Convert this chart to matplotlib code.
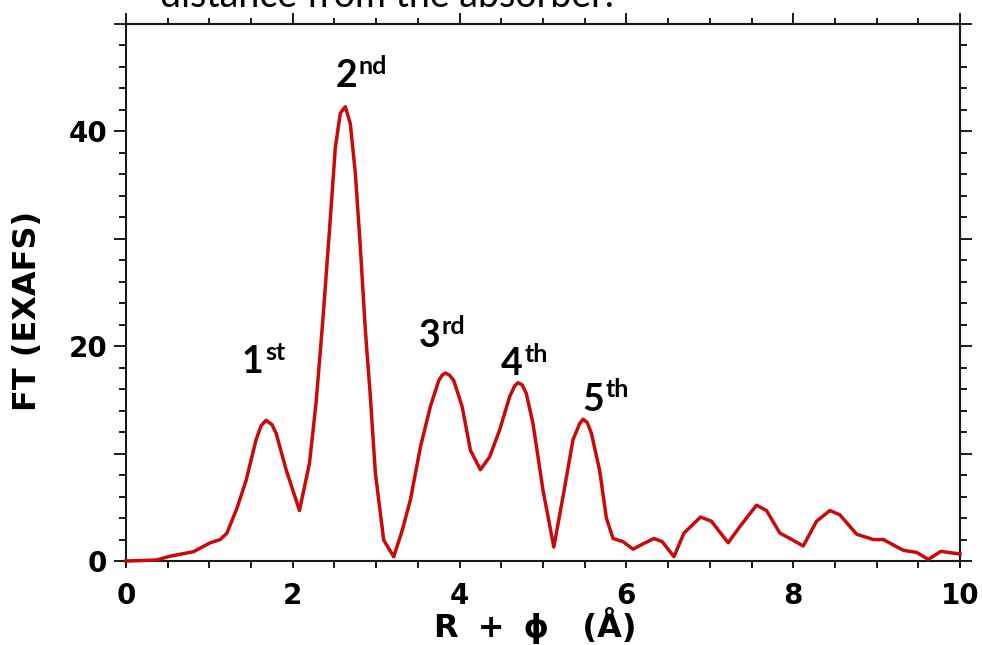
import matplotlib
matplotlib.use("Agg")
import matplotlib.pyplot as plt
from matplotlib.ticker import MultipleLocator, FuncFormatter

# Fourier-transformed EXAFS magnitude versus R + phi (Angstrom)
r_values = [0.00, 0.20, 0.37, 0.53, 0.81, 1.01, 1.13, 1.21, 1.33, 1.44,
            1.56, 1.62, 1.68, 1.75, 1.80, 1.92, 2.08, 2.20, 2.28, 2.36,
            2.44, 2.51, 2.57, 2.63, 2.69, 2.75, 2.81, 2.87, 2.93, 2.99,
            3.09, 3.21, 3.31, 3.41, 3.53, 3.65, 3.75, 3.79, 3.83, 3.88,
            3.93, 4.03, 4.13, 4.25, 4.36, 4.48, 4.60, 4.66, 4.70, 4.75,
            4.80, 4.88, 5.00, 5.13, 5.24, 5.36, 5.44, 5.48, 5.53, 5.58,
            5.68, 5.76, 5.84, 5.96, 6.08, 6.20, 6.33, 6.43, 6.57, 6.69,
            6.89, 7.02, 7.22, 7.36, 7.56, 7.68, 7.84, 7.96, 8.12, 8.28,
            8.44, 8.56, 8.76, 8.96, 9.08, 9.32, 9.48, 9.62, 9.77, 10.00]
ft_values = [0.0, 0.05, 0.1, 0.45, 0.87, 1.7, 2.0, 2.6, 4.9, 7.5,
             11.3, 12.6, 13.1, 12.7, 11.9, 8.5, 4.7, 9.1, 14.8, 22.4,
             30.8, 38.5, 41.7, 42.3, 40.7, 36.1, 29.2, 21.5, 15.3, 8.2,
             1.95, 0.4, 2.8, 5.7, 10.6, 14.4, 16.8, 17.3, 17.5, 17.3,
             16.8, 14.4, 10.3, 8.5, 9.7, 12.2, 15.3, 16.3, 16.6, 16.4,
             15.6, 12.8, 6.6, 1.3, 6.0, 11.3, 12.8, 13.2, 12.9, 11.9,
             8.4, 4.0, 2.1, 1.8, 1.1, 1.6, 2.1, 1.8, 0.4, 2.6,
             4.1, 3.7, 1.7, 3.2, 5.2, 4.7, 2.6, 2.1, 1.4, 3.7,
             4.7, 4.3, 2.5, 2.0, 2.0, 1.0, 0.8, 0.15, 0.9, 0.65]

# Coordination-shell labels: (number, suffix, x, baseline y)
shell_numbers = ["1", "2", "3", "4", "5"]
shell_suffixes = ["st", "nd", "rd", "th", "th"]
shell_label_x = [1.65, 2.77, 3.77, 4.76, 5.73]
shell_label_y = [17.5, 44.1, 19.9, 17.3, 14.0]

x_tick_labels = ["0", "2", "4", "6", "8", "10"]
y_labelled = [0, 20, 40]

AXIS_FONT = ["DejaVu Sans"]
NOTE_FONT = ["Lato", "DejaVu Sans"]
INK = "#1a1a1a"

fig = plt.figure(figsize=(9.82, 6.45), dpi=100, facecolor="white")
ax = fig.add_axes([0.1283, 0.1302, 0.8493, 0.8326])

ax.plot(r_values, ft_values, color="#c80a0a", lw=2.5, zorder=3,
        clip_on=False, solid_joinstyle="round")

ax.set_xlim(0, 10)
ax.set_ylim(0, 50)

for s in ax.spines.values():
    s.set_linewidth(1.5)
    s.set_color(INK)

ax.xaxis.set_major_locator(MultipleLocator(2))
ax.xaxis.set_minor_locator(MultipleLocator(0.5))
ax.yaxis.set_major_locator(MultipleLocator(10))
ax.yaxis.set_minor_locator(MultipleLocator(2))
ax.xaxis.set_major_formatter(FuncFormatter(
    lambda v, p: x_tick_labels[int(round(v / 2))]
    if 0 <= round(v / 2) < len(x_tick_labels) else ""))
ax.yaxis.set_major_formatter(FuncFormatter(
    lambda v, p: f"{int(round(v))}" if int(round(v)) in y_labelled else ""))

ax.tick_params(axis="x", which="both", direction="out", length=5,
               width=1.4, color=INK, pad=10)
ax.tick_params(axis="y", which="major", direction="out", length=8.6,
               width=1.4, color=INK, pad=5)
ax.tick_params(axis="y", which="minor", direction="out", length=5,
               width=1.4, color=INK)
for lab in ax.get_xticklabels() + ax.get_yticklabels():
    lab.set_fontfamily(AXIS_FONT)
    lab.set_fontweight("bold")
    lab.set_fontsize(20)

# Tick marks on the top and right edges, without labels
top = ax.secondary_xaxis("top")
top.xaxis.set_major_locator(MultipleLocator(2))
top.xaxis.set_minor_locator(MultipleLocator(0.5))
top.tick_params(axis="x", which="major", direction="out", length=8,
                width=1.4, color=INK, labeltop=False)
top.tick_params(axis="x", which="minor", direction="out", length=4.3,
                width=1.4, color=INK)
top.spines["top"].set_linewidth(1.5)

right = ax.secondary_yaxis("right")
right.yaxis.set_major_locator(MultipleLocator(10))
right.yaxis.set_minor_locator(MultipleLocator(2))
right.tick_params(axis="y", which="major", direction="out", length=8.6,
                  width=1.4, color=INK, labelright=False)
right.tick_params(axis="y", which="minor", direction="out", length=5,
                  width=1.4, color=INK)
right.spines["right"].set_linewidth(1.5)

ax.set_xlabel("R \u2005+ \u2005\u03d5   (\u00c5)", fontfamily=AXIS_FONT,
              fontweight="bold", fontsize=23)
ax.xaxis.set_label_coords(0.491, -0.086)
ax.set_ylabel("FT (EXAFS)", fontfamily=AXIS_FONT, fontweight="bold",
              fontsize=23)
ax.yaxis.set_label_coords(-0.099, 0.466)

for num, suf, lx, ly in zip(shell_numbers, shell_suffixes,
                            shell_label_x, shell_label_y):
    ax.text(lx, ly, num, ha="right", va="baseline", fontfamily=NOTE_FONT,
            fontweight="bold", fontsize=27, zorder=4)
    ax.annotate(suf, xy=(lx, ly), xytext=(1.0, 9.5),
                textcoords="offset points", ha="left", va="baseline",
                fontfamily=NOTE_FONT, fontweight="bold", fontsize=18,
                zorder=4)

fig.text(0.163, 0.989, "distance from the absorber.", ha="left",
         va="baseline", fontfamily=NOTE_FONT, fontsize=27, color="black")

fig.savefig("out.png", dpi=100, facecolor="white")
